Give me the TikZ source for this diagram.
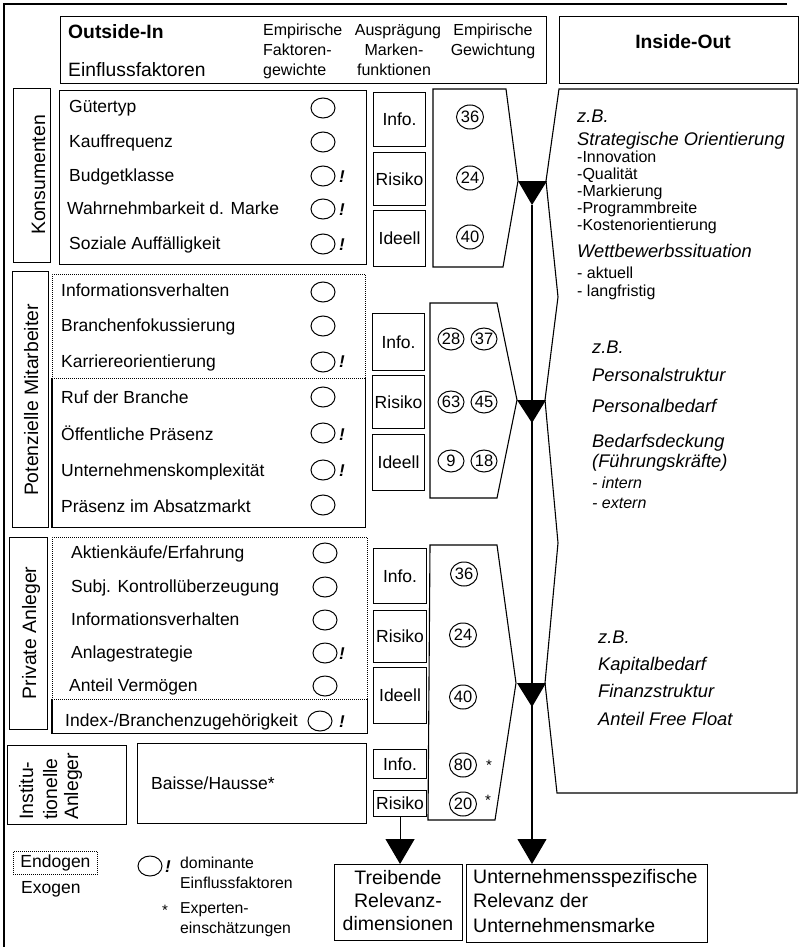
\documentclass[tikz,border=0pt]{standalone}
\usepackage{fontspec}
\setmainfont{Liberation Sans}
\usetikzlibrary{shapes.geometric,arrows.meta}
\newcommand\mybox[7][]{\node[bx,minimum width={(#5-#3)*1pt},minimum height={(#6-#4)*1pt},#1] (#2) at (#3,#4) {#7};}
\begin{document}
\begin{tikzpicture}[x=1pt,y=-1pt,
  ln/.style={line width=1.1pt},
  bx/.style={draw,line width=1.1pt,inner sep=0pt,anchor=north west,font=\fontsize{17.5}{20}\selectfont},
  dotbx/.style={line width=0.9pt,dash pattern=on 0.9pt off 1.1pt},
  itm/.style={anchor=base west,inner sep=0pt,font=\fontsize{17.5}{20}\selectfont},
  hd/.style={anchor=base,inner sep=0pt,font=\fontsize{16}{18}\selectfont},
  hdw/.style={anchor=base west,inner sep=0pt,font=\fontsize{16}{18}\selectfont},
  big/.style={anchor=base west,inner sep=0pt,font=\fontsize{19.3}{22}\selectfont},
  rl/.style={rotate=90,anchor=base,inner sep=0pt,font=\fontsize{19.4}{22}\selectfont},
  rlw/.style={rotate=90,anchor=base west,inner sep=0pt,font=\fontsize{19.4}{22}\selectfont},
  circ/.style={draw,ellipse,line width=1pt,minimum width=24pt,minimum height=20pt,inner sep=0pt},
  excl/.style={anchor=base,inner sep=0pt,font=\fontsize{17}{18}\selectfont\bfseries\itshape},
  num/.style={draw,ellipse,line width=1pt,minimum width=27pt,minimum height=24pt,inner sep=0pt,font=\fontsize{16.5}{16.5}\selectfont},
  star/.style={anchor=base,inner sep=0pt,font=\fontsize{15}{15}\selectfont},
  io/.style={anchor=base west,inner sep=0pt,font=\fontsize{18.3}{21}\selectfont\itshape},
  ios/.style={anchor=base west,inner sep=0pt,font=\fontsize{16}{18}\selectfont},
  iosi/.style={anchor=base west,inner sep=0pt,font=\fontsize{16}{18}\selectfont\itshape},
  leg/.style={anchor=base west,inner sep=0pt,font=\fontsize{15.8}{18}\selectfont},
  bot/.style={anchor=base west,inner sep=0pt,font=\fontsize{19.5}{22}\selectfont},
  botc/.style={anchor=base,inner sep=0pt,font=\fontsize{19.5}{22}\selectfont},
  tip/.style={-{Triangle[width=29pt,length=25pt]}}
]
\useasboundingbox (0,0) rectangle (802,947);
% outer frame
\coordinate (fr1) at (787,4); \coordinate (fr2) at (4,4); \coordinate (fr3) at (4,947);
\draw[ln] (fr1) -- (fr2) -- (fr3);

% header
\mybox{hdr}{60}{16}{546}{83}{}
\node[big,font=\fontsize{19.3}{22}\selectfont\bfseries] (hOI) at (68,39) {Outside-In};
\node[big] (hEF) at (68,77) {Einflussfaktoren};
\node[hdw] (h1a) at (263,36) {Empirische};
\node[hdw] (h1b) at (263,56) {Faktoren-};
\node[hdw] (h1c) at (263,76) {gewichte};
\node[hd] (h2a) at (398,36) {Ausprägung};
\node[hd] (h2b) at (394,56) {Marken-};
\node[hd] (h2c) at (394,76) {funktionen};
\node[hd] (h3a) at (493,36) {Empirische};
\node[hd] (h3b) at (493,56) {Gewichtung};
\mybox{ioh}{559}{16}{798}{83}{}
\node[anchor=base,inner sep=0pt,font=\fontsize{19.3}{22}\selectfont\bfseries] (hIO) at (683,49) {Inside-Out};

% ---------------- Konsumenten
\mybox{kL}{13}{88}{50}{262}{}
\node[rl] (kLt) at (45,175) {Konsumenten};
\mybox{kM}{59}{90}{366}{264}{}
\node[itm] (k1) at (69,113) {Gütertyp};
\node[itm] (k2) at (69,147) {Kauffrequenz};
\node[itm] (k3) at (69,181) {Budgetklasse};
\node[itm] (k4) at (67,214) {Wahrnehmbarkeit d. Marke};
\node[itm] (k5) at (69,249) {Soziale Auffälligkeit};
\node[circ] (kc1) at (323,108) {};
\node[circ] (kc2) at (323,142) {};
\node[circ] (kc3) at (323,176) {};
\node[circ] (kc4) at (323,209) {};
\node[circ] (kc5) at (323,244) {};
\node[excl] (ke3) at (342,182) {!};
\node[excl] (ke4) at (342,215) {!};
\node[excl] (ke5) at (342,250) {!};
\mybox{kI}{373}{92}{425}{146}{Info.}
\mybox{kR}{373}{152}{425}{205}{Risiko}
\mybox{kD}{373}{210}{425}{266}{Ideell}
\coordinate (kw1) at (433,89); \coordinate (kw2) at (506,89); \coordinate (kw3) at (518,181);
\coordinate (kw4) at (503,267); \coordinate (kw5) at (433,267);
\draw[ln] (kw1) -- (kw2) -- (kw3) -- (kw4) -- (kw5) -- cycle;
\node[num] (kn1) at (470,117) {36};
\node[num] (kn2) at (470,178) {24};
\node[num] (kn3) at (470,237) {40};

% ---------------- Potenzielle Mitarbeiter
\mybox{mL}{12}{271}{48}{527}{}
\node[rl] (mLt) at (38,400) {Potenzielle Mitarbeiter};
\mybox[dotbx]{mU}{52}{274}{365}{378}{}
\node[anchor=north west,inner sep=0pt,minimum width=313pt,minimum height=149pt] (mB) at (52,378) {};
\draw[ln] (mB.north west) -- (mB.south west) -- (mB.south east) -- (mB.north east);
\node[itm] (m1) at (61,296) {Informationsverhalten};
\node[itm] (m2) at (61,331) {Branchenfokussierung};
\node[itm] (m3) at (61,367) {Karriereorientierung};
\node[itm] (m4) at (61,403) {Ruf der Branche};
\node[itm] (m5) at (61,440) {Öffentliche Präsenz};
\node[itm] (m6) at (61,476) {Unternehmenskomplexität};
\node[itm] (m7) at (61,512) {Präsenz im Absatzmarkt};
\node[circ] (mc1) at (323,292) {};
\node[circ] (mc2) at (323,326) {};
\node[circ] (mc3) at (323,362) {};
\node[circ] (mc4) at (323,397) {};
\node[circ] (mc5) at (323,433) {};
\node[circ] (mc6) at (323,470) {};
\node[circ] (mc7) at (323,505) {};
\node[excl] (me3) at (342,367) {!};
\node[excl] (me5) at (342,440) {!};
\node[excl] (me6) at (342,476) {!};
\mybox{mI}{372}{313}{424}{370}{Info.}
\mybox{mR}{372}{375}{424}{428}{Risiko}
\mybox{mD}{372}{434}{424}{490}{Ideell}
\coordinate (mw1) at (430,303); \coordinate (mw2) at (497,303); \coordinate (mw3) at (517,400);
\coordinate (mw4) at (497,498); \coordinate (mw5) at (430,498);
\draw[ln] (mw1) -- (mw2) -- (mw3) -- (mw4) -- (mw5) -- cycle;
\node[num,minimum width=26pt,minimum height=22pt] (mn1) at (451,339) {28};
\node[num,minimum width=26pt,minimum height=22pt] (mn2) at (484,339) {37};
\node[num,minimum width=26pt,minimum height=22pt] (mn3) at (451,402) {63};
\node[num,minimum width=26pt,minimum height=22pt] (mn4) at (484,402) {45};
\node[num,minimum width=26pt,minimum height=22pt] (mn5) at (451,461) {9};
\node[num,minimum width=26pt,minimum height=22pt] (mn6) at (484,461) {18};

% ---------------- Private Anleger
\mybox{pL}{9}{537}{47}{729}{}
\node[rl] (pLt) at (36,633) {Private Anleger};
\mybox[dotbx]{pU}{52}{537}{367}{699}{}
\node[anchor=north west,inner sep=0pt,minimum width=315pt,minimum height=34pt] (pB) at (52,699) {};
\draw[ln] (pB.north west) -- (pB.south west) -- (pB.south east) -- (pB.north east);
\node[itm] (p1) at (71,558) {Aktienkäufe/Erfahrung};
\node[itm] (p2) at (71,592) {Subj. Kontrollüberzeugung};
\node[itm] (p3) at (71,625) {Informationsverhalten};
\node[itm] (p4) at (71,658) {Anlagestrategie};
\node[itm] (p5) at (69,691) {Anteil Vermögen};
\node[itm] (p6) at (65,726) {Index-/Branchenzugehörigkeit};
\node[circ] (pc1) at (325,553) {};
\node[circ] (pc2) at (325,587) {};
\node[circ] (pc3) at (325,620) {};
\node[circ] (pc4) at (325,653) {};
\node[circ] (pc5) at (325,686) {};
\node[circ] (pc6) at (320,721) {};
\node[excl] (pe4) at (342,659) {!};
\node[excl] (pe6) at (342,727) {!};
\mybox{pI}{373}{548}{426}{603}{Info.}
\mybox{pR}{373}{610}{426}{662}{Risiko}
\mybox{pD}{373}{667}{426}{723}{Ideell}
\coordinate (pw1) at (430,545); \coordinate (pw2) at (497,545); \coordinate (pw3) at (516,683);
\coordinate (pw4) at (495,820); \coordinate (pw5) at (428,820);
\draw[ln] (pw1) -- (pw2) -- (pw3) -- (pw4) -- (pw5) -- cycle;
\node[num] (pn1) at (464,574) {36};
\node[num] (pn2) at (463,635) {24};
\node[num] (pn3) at (463,697) {40};
\node[num] (pn4) at (463,765) {80};
\node[num] (pn5) at (463,804) {20};
\node[star] (ps4) at (489,770) {*};
\node[star] (ps5) at (488,805) {*};

% ---------------- Institutionelle Anleger
\mybox{iL}{7}{745}{126}{824}{}
\node[rlw] (iL1) at (33,820) {Institu-};
\node[rlw] (iL2) at (57,820) {tionelle};
\node[rlw] (iL3) at (78,820) {Anleger};
\mybox{iM}{137}{743}{366}{823}{}
\node[itm] (i1) at (151,789) {Baisse/Hausse*};
\mybox{iI}{373}{749}{426}{778}{Info.}
\mybox{iR}{373}{790}{426}{816}{Risiko}

% ---------------- Inside-Out
\coordinate (o1) at (559,89); \coordinate (o2) at (546,181); \coordinate (o3) at (558,297);
\coordinate (o4) at (545,400); \coordinate (o5) at (558,543); \coordinate (o6) at (545,683);
\coordinate (o7) at (557,793); \coordinate (o8) at (797,793); \coordinate (o9) at (797,89);
\draw[ln] (o1) -- (o2) -- (o3) -- (o4) -- (o5) -- (o6) -- (o7) -- (o8) -- (o9) -- cycle;
\node[io] (a1) at (577,122) {z.B.};
\node[io] (a2) at (577,145) {Strategische Orientierung};
\node[ios] (a3) at (577,162) {-Innovation};
\node[ios] (a4) at (577,179) {-Qualität};
\node[ios] (a5) at (577,196) {-Markierung};
\node[ios] (a6) at (577,213) {-Programmbreite};
\node[ios] (a7) at (577,230) {-Kostenorientierung};
\node[io] (a8) at (577,257) {Wettbewerbssituation};
\node[ios] (a9) at (577,278) {- aktuell};
\node[ios] (a10) at (577,296) {- langfristig};
\node[io] (b1) at (592,353) {z.B.};
\node[io] (b2) at (592,381) {Personalstruktur};
\node[io] (b3) at (592,412) {Personalbedarf};
\node[io] (b4) at (592,447) {Bedarfsdeckung};
\node[io] (b5) at (592,467) {(Führungskräfte)};
\node[iosi] (b6) at (592,488) {- intern};
\node[iosi] (b7) at (592,508) {- extern};
\node[io] (c1) at (598,643) {z.B.};
\node[io] (c2) at (598,670) {Kapitalbedarf};
\node[io] (c3) at (598,697) {Finanzstruktur};
\node[io] (c4) at (598,725) {Anteil Free Float};

% ---------------- triangles and connectors
\coordinate (t1) at (532,205); \coordinate (t2) at (532,423); \coordinate (t3) at (532,707);
\fill (518,181) -- (547,181) -- (t1) -- cycle;
\fill (517,400) -- (546,400) -- (t2) -- cycle;
\fill (517,683) -- (546,683) -- (t3) -- cycle;

\mybox{tr}{334}{864}{462}{940}{}
\node[botc] (tr1) at (398,884) {Treibende};
\node[botc] (tr2) at (398,907) {Relevanz-};
\node[botc] (tr3) at (398,930) {dimensionen};
\mybox{un}{466}{864}{707}{942}{}
\node[bot] (un1) at (473,883) {Unternehmensspezifische};
\node[bot] (un2) at (473,907) {Relevanz der};
\node[bot] (un3) at (473,932) {Unternehmensmarke};

\draw[ln,tip] (t1) -- (t1 |- un.north);
\draw[ln,tip] (iR.south) -- (iR.south |- tr.north);

% ---------------- legend
\mybox[dotbx]{lgE}{13}{851}{97}{874}{Endogen}
\node[itm] (lgX) at (21,893) {Exogen};
\node[circ] (lgC) at (150,866) {};
\node[excl] (lgEx) at (168,872) {!};
\node[leg] (lg1) at (180,868) {dominante};
\node[leg] (lg2) at (180,888) {Einflussfaktoren};
\node[star] (lgS) at (165,915) {*};
\node[leg] (lg3) at (180,913) {Experten-};
\node[leg] (lg4) at (180,933) {einschätzungen};
\end{tikzpicture}
\end{document}
